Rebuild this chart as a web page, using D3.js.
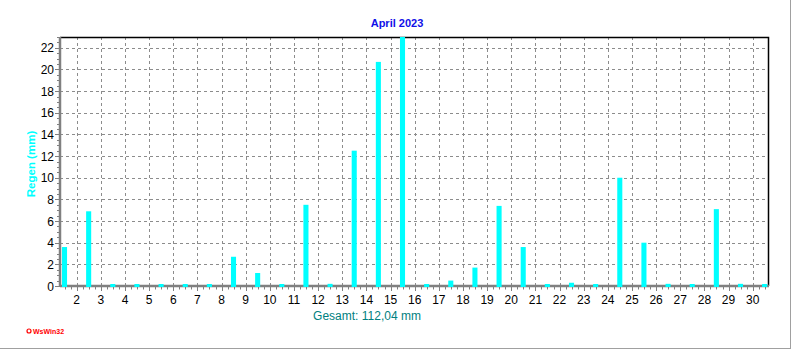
<!DOCTYPE html>
<html>
<head>
<meta charset="utf-8">
<script src="https://cdn.jsdelivr.net/npm/d3@7"></script>
<style>
    body { margin: 0; background: #fff; }
    svg { display: block; font-family: "Liberation Sans", Arial, sans-serif; }
</style>
</head>
<body>
<div id="chart"></div>
<script>
// daily rain, April 2023
const days = d3.range(1, 31);
const rain = [3.6, 6.9, 0.1, 0.1, 0.1, 0.1, 0.1, 2.7, 1.2, 0.1,
              7.5, 0.2, 12.5, 20.7, 23.0, 0.1, 0.5, 1.7, 7.4, 3.6,
              0.1, 0.3, 0.1, 10.0, 4.0, 0.2, 0.1, 7.1, 0.2, 0.1];
const yTicks = [0, 2, 4, 6, 8, 10, 12, 14, 16, 18, 20, 22];
const xTicks = d3.range(2, 31);
const title = "April 2023";
const yLabel = "Regen  (mm)";
const total = "Gesamt: 112,04 mm";

const width = 792, height = 350;
const plotL = 60, plotR = 768, plotT = 37, plotB = 286;

const svg = d3.select("#chart").append("svg")
    .attr("width", width)
    .attr("height", height);

const x = d3.scaleLinear().domain([1.308, 30.634]).range([plotL, plotR]);
const y = d3.scaleLinear().domain([0, 23]).range([plotB, plotT]);

// outer frame (right + bottom)
svg.append("line").attr("x1", 790.5).attr("x2", 790.5).attr("y1", 0).attr("y2", 348.5)
    .attr("stroke", "#a0a0a0");
svg.append("line").attr("x1", 0).attr("x2", 791).attr("y1", 348.5).attr("y2", 348.5)
    .attr("stroke", "#a0a0a0");

// grid
svg.append("g").selectAll("line")
    .data(yTicks.filter(d => d > 0))
    .enter().append("line")
    .attr("x1", plotL).attr("x2", plotR)
    .attr("y1", d => Math.round(y(d)) + 0.5)
    .attr("y2", d => Math.round(y(d)) + 0.5)
    .attr("stroke", "#8c8c8c")
    .attr("stroke-dasharray", "3,3");

svg.append("g").selectAll("line")
    .data(xTicks)
    .enter().append("line")
    .attr("x1", d => Math.round(x(d)) + 0.5)
    .attr("x2", d => Math.round(x(d)) + 0.5)
    .attr("y1", plotT).attr("y2", plotB)
    .attr("stroke", "#8c8c8c")
    .attr("stroke-dasharray", "3,3");

// top + right border
svg.append("path")
    .attr("d", `M${plotL},${plotT + 0.5}H${plotR + 0.5}V${plotB}`)
    .attr("fill", "none")
    .attr("stroke", "#000")
    .attr("stroke-width", 1.5);

// axes (ticks)
const xMinor = d3.range(1.5, 30.7, 0.25).filter(v => x(v) >= plotL && x(v) <= plotR);
svg.append("g").selectAll("line")
    .data(xMinor)
    .enter().append("line")
    .attr("x1", d => Math.round(x(d)) + 0.5)
    .attr("x2", d => Math.round(x(d)) + 0.5)
    .attr("y1", plotB)
    .attr("y2", d => plotB + (Number.isInteger(d) ? 5 : 3.5))
    .attr("stroke", "#808080");

const yMinor = d3.range(0, 23.01, 0.5);
svg.append("g").selectAll("line")
    .data(yMinor)
    .enter().append("line")
    .attr("x1", d => plotL - (d % 2 === 0 ? 5 : 3))
    .attr("x2", plotL)
    .attr("y1", d => Math.round(y(d)) + 0.5)
    .attr("y2", d => Math.round(y(d)) + 0.5)
    .attr("stroke", "#808080");

// gray axis lines
svg.append("line").attr("x1", plotL).attr("x2", plotL).attr("y1", plotT).attr("y2", plotB + 1)
    .attr("stroke", "#808080").attr("stroke-width", 2.5);
svg.append("line").attr("x1", plotL).attr("x2", plotR + 1).attr("y1", plotB).attr("y2", plotB)
    .attr("stroke", "#808080").attr("stroke-width", 2.5);

// bars (drawn over the axis so the tiny ones show)
svg.append("g").selectAll("rect")
    .data(days)
    .enter().append("rect")
    .attr("x", d => x(d + 0.39))
    .attr("width", d => x(d + 0.6) - x(d + 0.39))
    .attr("y", (d, i) => Math.min(y(rain[i]), plotB - 2))
    .attr("height", (d, i) => Math.max(plotB - y(rain[i]), 2) + 1)
    .attr("fill", "#00ffff");

// tick labels
svg.append("g").selectAll("text")
    .data(xTicks)
    .enter().append("text")
    .attr("x", d => x(d))
    .attr("y", 304)
    .attr("text-anchor", "middle")
    .attr("font-size", 12)
    .attr("fill", "#000")
    .text(d => d);

svg.append("g").selectAll("text")
    .data(yTicks)
    .enter().append("text")
    .attr("x", 54)
    .attr("y", d => y(d) + 4.5)
    .attr("text-anchor", "end")
    .attr("font-size", 12)
    .attr("fill", "#000")
    .text(d => d);

// titles
svg.append("text")
    .attr("x", 397).attr("y", 27)
    .attr("text-anchor", "middle")
    .attr("font-size", 11).attr("font-weight", "bold")
    .attr("fill", "#1010e8")
    .text(title);

svg.append("text")
    .attr("transform", "translate(35,164) rotate(-90)")
    .attr("text-anchor", "middle")
    .attr("font-size", 11.5).attr("font-weight", "bold")
    .attr("fill", "#00ffff")
    .text(yLabel);

svg.append("text")
    .attr("x", 367).attr("y", 320)
    .attr("text-anchor", "middle")
    .attr("font-size", 12)
    .attr("fill", "#008080")
    .text(total);

// WsWin32 tag
svg.append("circle").attr("cx", 29).attr("cy", 331).attr("r", 2)
    .attr("fill", "none").attr("stroke", "#ff0000").attr("stroke-width", 1.2);
svg.append("text")
    .attr("x", 33).attr("y", 334)
    .attr("font-size", 7).attr("font-weight", "bold")
    .attr("fill", "#ff0000")
    .text("WsWin32");
</script>
</body>
</html>
